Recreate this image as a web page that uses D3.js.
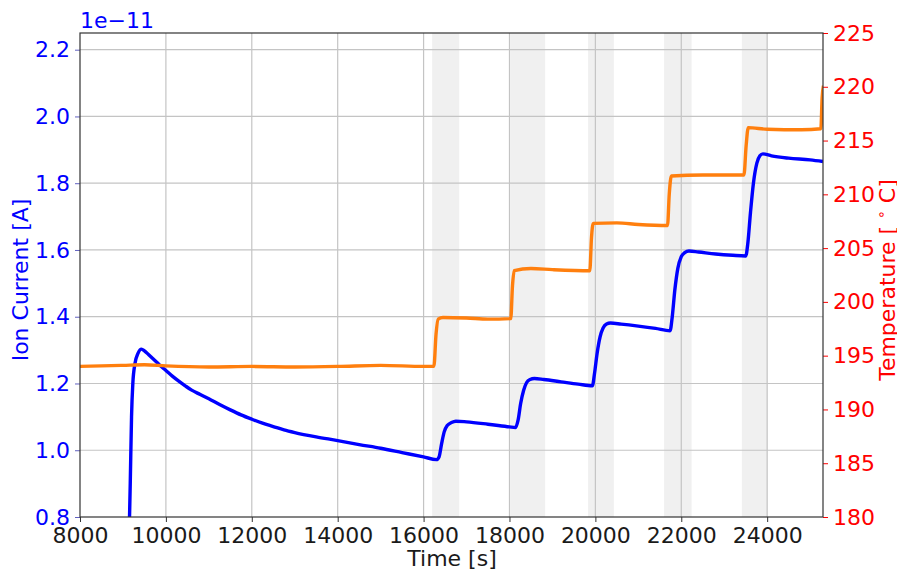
<!DOCTYPE html>
<html>
<head>
<meta charset="utf-8">
<script src="https://cdn.jsdelivr.net/npm/d3@7"></script>
<style>
  body { margin: 0; background: #fff; }
  svg { display: block; font-family: "DejaVu Sans", sans-serif; }
</style>
</head>
<body>
<svg id="chart" width="897" height="569"></svg>
<script>
// ---- data ----
const xTicks = [8000, 10000, 12000, 14000, 16000, 18000, 20000, 22000, 24000];
const currentTicks = [0.8, 1.0, 1.2, 1.4, 1.6, 1.8, 2.0, 2.2];
const tempTicks = [180, 185, 190, 195, 200, 205, 210, 215, 220, 225];
const shadeStart = [16200, 18020, 19830, 21600, 23410];
const shadeEnd   = [16830, 18830, 20430, 22240, 24010];

const timeI = [9150, 9170, 9200, 9230, 9280, 9350, 9430, 9500, 9600, 9700, 9800, 9900, 10000, 10150, 10300, 10450, 10600, 10800, 11000, 11250, 11500, 11750, 12000, 12250, 12500, 12750, 13000, 13500, 14000, 14500, 15000, 15500, 16000, 16300, 16360, 16420, 16480, 16550, 16650, 16750, 17000, 17500, 18000, 18140, 18200, 18260, 18330, 18400, 18480, 18580, 18800, 19200, 19600, 19930, 19980, 20040, 20110, 20180, 20260, 20350, 20600, 21000, 21400, 21740, 21790, 21850, 21920, 22000, 22080, 22180, 22400, 22800, 23200, 23500, 23550, 23610, 23680, 23760, 23830, 23900, 24100, 24500, 25000, 25300];
const current = [0.78, 0.9, 1.1, 1.2, 1.26, 1.29, 1.303, 1.298, 1.286, 1.274, 1.262, 1.25, 1.239, 1.222, 1.207, 1.193, 1.18, 1.167, 1.154, 1.137, 1.121, 1.106, 1.093, 1.081, 1.071, 1.061, 1.053, 1.04, 1.029, 1.017, 1.006, 0.993, 0.98, 0.972, 0.98, 1.02, 1.055, 1.074, 1.083, 1.087, 1.085, 1.078, 1.07, 1.068, 1.09, 1.14, 1.18, 1.203, 1.212, 1.215, 1.212, 1.205, 1.198, 1.193, 1.23, 1.29, 1.34, 1.366, 1.378, 1.381, 1.378, 1.372, 1.365, 1.358, 1.40, 1.48, 1.545, 1.58, 1.592, 1.597, 1.594, 1.588, 1.584, 1.582, 1.62, 1.71, 1.80, 1.86, 1.882, 1.888, 1.882, 1.875, 1.87, 1.865];

const timeT = [8000, 8500, 9000, 9500, 10000, 11000, 12000, 13000, 14000, 15000, 16000, 16240, 16290, 16340, 16450, 17000, 17500, 18030, 18070, 18110, 18500, 19000, 19870, 19910, 19950, 20500, 21000, 21680, 21720, 21770, 22500, 23000, 23460, 23510, 23560, 24000, 24800, 25250, 25280, 25310];
const tempC = [194.0, 194.05, 194.1, 194.15, 194.05, 193.95, 194.0, 193.95, 194.0, 194.1, 194.0, 194.0, 197.0, 198.4, 198.55, 198.5, 198.4, 198.45, 201.5, 202.9, 203.1, 203.0, 202.9, 206.0, 207.3, 207.35, 207.2, 207.1, 210.0, 211.7, 211.8, 211.8, 211.8, 214.5, 216.2, 216.05, 216.0, 216.1, 219.0, 220.1];

// ---- layout ----
const svg = d3.select("#chart");
const L = 80, R = 823, T = 33, B = 517;

const x = d3.scaleLinear().domain([8000, 25300]).range([L, R]);
const yI = d3.scaleLinear().domain([0.8, 2.25]).range([B, T]);
const yT = d3.scaleLinear().domain([180, 225]).range([B, T]);

svg.append("defs").append("clipPath").attr("id", "clip")
  .append("rect").attr("x", L).attr("y", T).attr("width", R - L).attr("height", B - T);

// shaded spans
svg.append("g").selectAll("rect").data(shadeStart).join("rect")
  .attr("x", (d) => x(d))
  .attr("y", T)
  .attr("width", (d, i) => x(shadeEnd[i]) - x(d))
  .attr("height", B - T)
  .attr("fill", "#f0f0f0");

// grid
const grid = svg.append("g").attr("stroke", "#c4c4c4").attr("stroke-width", 1.2);
grid.selectAll(".gx").data(xTicks.slice(1)).join("line")
  .attr("x1", (d) => x(d)).attr("x2", (d) => x(d)).attr("y1", T).attr("y2", B);
grid.selectAll(".gy").data(currentTicks.slice(1)).join("line")
  .attr("x1", L).attr("x2", R).attr("y1", (d) => yI(d)).attr("y2", (d) => yI(d));

// lines
const g = svg.append("g").attr("clip-path", "url(#clip)");
g.append("path")
  .datum(timeI.map((t, i) => [t, current[i]]))
  .attr("fill", "none").attr("stroke", "#0000ff").attr("stroke-width", 3.4)
  .attr("stroke-linejoin", "round")
  .attr("d", d3.line().curve(d3.curveMonotoneX).x((d) => x(d[0])).y((d) => yI(d[1])));
g.append("path")
  .datum(timeT.map((t, i) => [t, tempC[i]]))
  .attr("fill", "none").attr("stroke", "#ff7f0e").attr("stroke-width", 3.4)
  .attr("stroke-linejoin", "round")
  .attr("d", d3.line().curve(d3.curveMonotoneX).x((d) => x(d[0])).y((d) => yT(d[1])));

// axes
const fs = "22px";
const xAxis = svg.append("g").attr("transform", `translate(0,${B})`)
  .call(d3.axisBottom(x).tickValues(xTicks).tickFormat(d3.format("d")).tickSize(5).tickPadding(5));
xAxis.select(".domain").remove();
xAxis.selectAll("line").attr("stroke", "#333");
xAxis.selectAll("text").attr("fill", "#1a1a1a").style("font-size", fs).style("font-family", "DejaVu Sans");

const yAxisL = svg.append("g").attr("transform", `translate(${L},0)`)
  .call(d3.axisLeft(yI).tickValues(currentTicks).tickFormat(d3.format(".1f")).tickSize(5).tickPadding(5));
yAxisL.select(".domain").remove();
yAxisL.selectAll("line").attr("stroke", "#6060c0");
yAxisL.selectAll("text").attr("fill", "#0000ff").style("font-size", fs).style("font-family", "DejaVu Sans");

const yAxisR = svg.append("g").attr("transform", `translate(${R},0)`)
  .call(d3.axisRight(yT).tickValues(tempTicks).tickFormat(d3.format("d")).tickSize(5).tickPadding(5));
yAxisR.select(".domain").remove();
yAxisR.selectAll("line").attr("stroke", "#ff0000");
yAxisR.selectAll("text").attr("fill", "#ff0000").style("font-size", fs).style("font-family", "DejaVu Sans");

// frame
svg.append("rect").attr("x", L).attr("y", T).attr("width", R - L).attr("height", B - T)
  .attr("fill", "none").attr("stroke", "#333").attr("stroke-width", 1.2);

// labels
svg.append("text").attr("x", L).attr("y", 28).attr("fill", "#0000ff")
  .style("font-size", fs).text("1e\u221211");

svg.append("text").attr("x", 452).attr("y", 566).attr("text-anchor", "middle")
  .attr("fill", "#1a1a1a").style("font-size", fs).text("Time [s]");

svg.append("text").attr("transform", `translate(28,280) rotate(-90)`)
  .attr("text-anchor", "middle").attr("fill", "#0000ff").style("font-size", fs)
  .text("Ion Current [A]");

const tl = svg.append("text").attr("transform", `translate(895,280) rotate(-90)`)
  .attr("text-anchor", "middle").attr("fill", "#ff0000").style("font-size", fs);
tl.append("tspan").text("Temperature [ ");
tl.append("tspan").attr("dy", -9).style("font-size", "14px").text("\u2218");
tl.append("tspan").attr("dy", 9).text(" C]");
</script>
</body>
</html>
